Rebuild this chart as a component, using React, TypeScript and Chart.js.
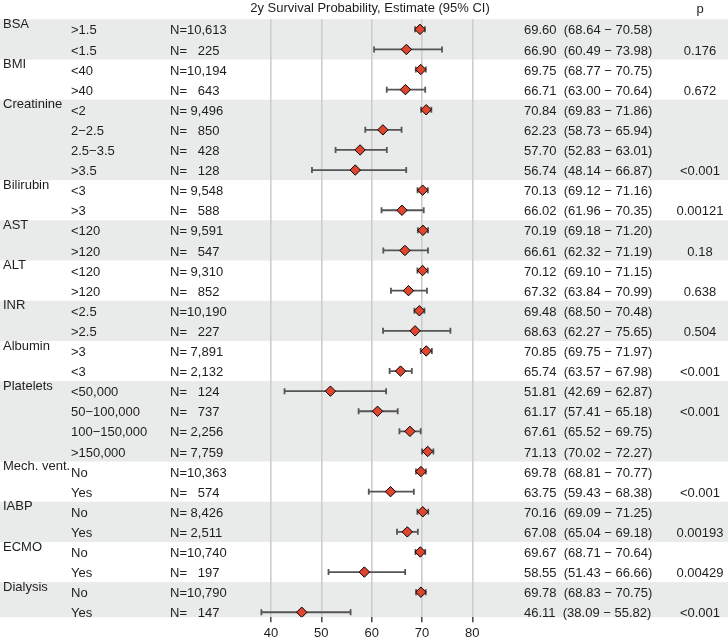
import React, { useEffect, useRef } from 'react';
import { Chart, registerables } from 'chart.js';

Chart.register(...registerables);

const titleText = '2y Survival Probability, Estimate (95% CI)';
const pHeader = 'p';
const groupNames = ['BSA', 'BMI', 'Creatinine', 'Bilirubin', 'AST', 'ALT', 'INR', 'Albumin', 'Platelets', 'Mech. vent.', 'IABP', 'ECMO', 'Dialysis'];
const groupSizes = [2, 2, 4, 2, 2, 2, 2, 2, 4, 2, 2, 2, 2];
const subgroupLabels = ['>1.5', '<1.5', '<40', '>40', '<2', '2−2.5', '2.5−3.5', '>3.5', '<3', '>3', '<120', '>120', '<120', '>120', '<2.5', '>2.5', '>3', '<3', '<50,000', '50−100,000', '100−150,000', '>150,000', 'No', 'Yes', 'No', 'Yes', 'No', 'Yes', 'No', 'Yes'];
const nLabels = ['N=10,613', 'N=   225', 'N=10,194', 'N=   643', 'N= 9,496', 'N=   850', 'N=   428', 'N=   128', 'N= 9,548', 'N=   588', 'N= 9,591', 'N=   547', 'N= 9,310', 'N=   852', 'N=10,190', 'N=   227', 'N= 7,891', 'N= 2,132', 'N=   124', 'N=   737', 'N= 2,256', 'N= 7,759', 'N=10,363', 'N=   574', 'N= 8,426', 'N= 2,511', 'N=10,740', 'N=   197', 'N=10,790', 'N=   147'];
const estimates = [69.60, 66.90, 69.75, 66.71, 70.84, 62.23, 57.70, 56.74, 70.13, 66.02, 70.19, 66.61, 70.12, 67.32, 69.48, 68.63, 70.85, 65.74, 51.81, 61.17, 67.61, 71.13, 69.78, 63.75, 70.16, 67.08, 69.67, 58.55, 69.78, 46.11];
const lowerCI = [68.64, 60.49, 68.77, 63.00, 69.83, 58.73, 52.83, 48.14, 69.12, 61.96, 69.18, 62.32, 69.10, 63.84, 68.50, 62.27, 69.75, 63.57, 42.69, 57.41, 65.52, 70.02, 68.81, 59.43, 69.09, 65.04, 68.71, 51.43, 68.83, 38.09];
const upperCI = [70.58, 73.98, 70.75, 70.64, 71.86, 65.94, 63.01, 66.87, 71.16, 70.35, 71.20, 71.19, 71.15, 70.99, 70.48, 75.65, 71.97, 67.98, 62.87, 65.18, 69.75, 72.27, 70.77, 68.38, 71.25, 69.18, 70.64, 66.66, 70.75, 55.82];
const pLabels = ['', '0.176', '', '0.672', '', '', '', '<0.001', '', '0.00121', '', '0.18', '', '0.638', '', '0.504', '', '<0.001', '', '<0.001', '', '', '', '<0.001', '', '0.00193', '', '0.00429', '', '<0.001'];
const xTicks = [40, 50, 60, 70, 80];

const W = 728;
const H = 639;
const FONT = "'Liberation Sans', Arial, Helvetica, sans-serif";
const TEXT_COLOR = '#1e1e1e';

export default function App() {
  const ref = useRef<HTMLCanvasElement | null>(null);

  useEffect(() => {
    const canvas = ref.current;
    if (!canvas) return;

    const groupStarts: number[] = [];
    let acc = 0;
    for (const s of groupSizes) {
      groupStarts.push(acc);
      acc += s;
    }

    const bandPlugin = {
      id: 'bands',
      beforeDraw(chart: any) {
        const { ctx, chartArea, scales } = chart;
        const ys = scales.y;
        ctx.save();
        ctx.fillStyle = '#e9eaea';
        groupStarts.forEach((start, g) => {
          if (g % 2 !== 0) return;
          const top = ys.getPixelForValue(start - 0.5);
          let bottom = ys.getPixelForValue(start + groupSizes[g] - 1 + 0.5);
          bottom = Math.min(bottom, chartArea.bottom);
          ctx.fillRect(0, top, W, bottom - top);
        });
        ctx.restore();
      },
    };

    const errorBarPlugin = {
      id: 'errorbars',
      beforeDatasetsDraw(chart: any) {
        const { ctx, scales } = chart;
        const xs = scales.x;
        const ys = scales.y;
        ctx.save();
        ctx.strokeStyle = '#555555';
        ctx.lineWidth = 1.8;
        estimates.forEach((_, i) => {
          const y = ys.getPixelForValue(i);
          const x1 = xs.getPixelForValue(lowerCI[i]);
          const x2 = xs.getPixelForValue(upperCI[i]);
          ctx.beginPath();
          ctx.moveTo(x1, y);
          ctx.lineTo(x2, y);
          ctx.moveTo(x1, y - 3);
          ctx.lineTo(x1, y + 3);
          ctx.moveTo(x2, y - 3);
          ctx.lineTo(x2, y + 3);
          ctx.stroke();
        });
        ctx.restore();
      },
    };

    const textPlugin = {
      id: 'tabletext',
      afterDraw(chart: any) {
        const { ctx, scales } = chart;
        const ys = scales.y;
        ctx.save();
        ctx.fillStyle = TEXT_COLOR;
        ctx.font = `13px ${FONT}`;
        ctx.textBaseline = 'middle';
        ctx.textAlign = 'center';
        ctx.fillText(titleText, 370, 8);
        ctx.fillText(pHeader, 700, 9);
        ctx.textAlign = 'left';
        groupStarts.forEach((start, g) => {
          const y = ys.getPixelForValue(start);
          ctx.fillText(groupNames[g], 3, y - 5);
        });
        estimates.forEach((est, i) => {
          const y = ys.getPixelForValue(i) + 1.5;
          ctx.textAlign = 'left';
          ctx.fillText(subgroupLabels[i], 71, y);
          ctx.fillText(nLabels[i], 170, y);
          ctx.fillText(`${est.toFixed(2)}  (${lowerCI[i].toFixed(2)} − ${upperCI[i].toFixed(2)})`, 524, y);
          if (pLabels[i]) {
            ctx.textAlign = 'center';
            ctx.fillText(pLabels[i], 700, y);
          }
        });
        ctx.restore();
      },
    };

    const chart = new Chart(canvas, {
      type: 'scatter',
      data: {
        datasets: [
          {
            data: estimates.map((v, i) => ({ x: v, y: i })),
            pointStyle: 'rectRot',
            pointRadius: 5.2,
            pointHoverRadius: 5.2,
            backgroundColor: '#e0452f',
            borderColor: '#000000',
            borderWidth: 1,
          },
        ],
      },
      options: {
        responsive: false,
        animation: false,
        devicePixelRatio: 1,
        layout: { padding: { left: 240.8, right: 255.7, top: 19.3, bottom: 0 } },
        plugins: {
          legend: { display: false },
          tooltip: { enabled: false },
        },
        scales: {
          x: {
            type: 'linear',
            min: 34,
            max: 80,
            afterBuildTicks: (scale: any) => {
              scale.ticks = xTicks.map((v) => ({ value: v }));
            },
            afterFit: (scale: any) => {
              scale.height = 21.7;
            },
            grid: {
              color: '#cdcdcd',
              lineWidth: 1.6,
              tickColor: '#444444',
              tickWidth: 1.5,
              tickLength: 5,
              drawTicks: true,
            },
            border: { display: false },
            ticks: {
              color: TEXT_COLOR,
              padding: 3,
              font: { family: FONT, size: 13 },
              maxRotation: 0,
              callback: (v: any) => String(v),
            },
          },
          y: {
            type: 'linear',
            display: false,
            min: -0.5,
            max: 29.25,
            reverse: true,
          },
        },
      },
      plugins: [bandPlugin, errorBarPlugin, textPlugin],
    } as any);

    return () => chart.destroy();
  }, []);

  return (
    <div style={{ position: 'fixed', left: 0, top: 0, width: W, height: H, background: '#ffffff' }}>
      <canvas ref={ref} width={W} height={H} style={{ width: W, height: H, display: 'block' }} />
    </div>
  );
}
